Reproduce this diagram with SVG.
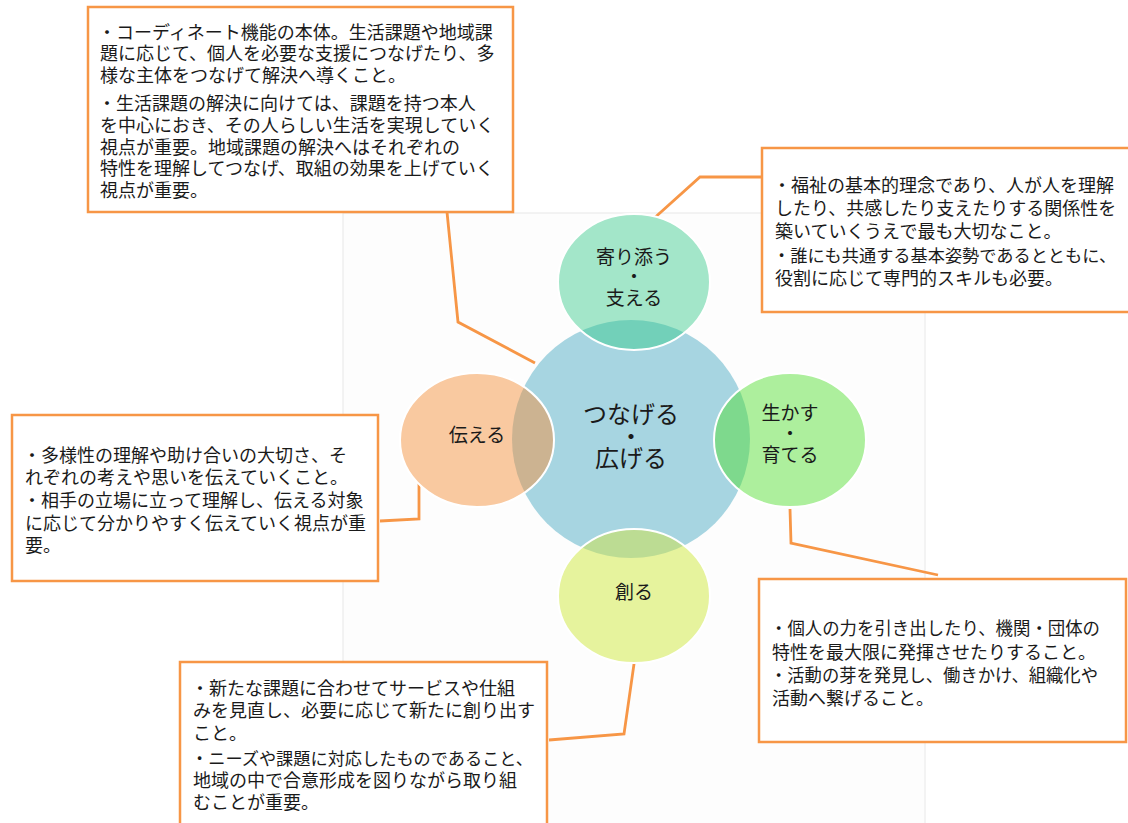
<svg xmlns="http://www.w3.org/2000/svg" width="1128" height="823" viewBox="0 0 1128 823">
<style>
  .box { fill: #ffffff; stroke: #f79646; stroke-width: 2.5; }
  .conn { fill: none; stroke: #f79646; stroke-width: 2.8; stroke-linejoin: miter; }
  .t { font-family: "Noto Sans CJK JP", "Noto Sans", sans-serif; font-size: 18px; fill: #1a1a1a; }
  .c { font-family: "Noto Sans CJK JP", "Noto Sans", sans-serif; font-size: 19px; fill: #1a1a1a; text-anchor: middle; }
  .cc { font-family: "Noto Sans CJK JP", "Noto Sans", sans-serif; font-size: 24px; fill: #1a1a1a; text-anchor: middle; }
  .rim { fill: none; stroke: #ffffff; stroke-width: 2; }
</style>
<defs>
  <clipPath id="clipCenter"><circle cx="631" cy="439" r="119"/></clipPath>
</defs>
<rect x="0" y="0" width="1128" height="823" fill="#ffffff"/>
<g id="panel">
  <rect x="343" y="213" width="582" height="620" fill="#fdfdfd" stroke="#e8e8e8" stroke-width="1"/>
</g>

<g id="connectors">
  <path class="conn" d="M447,212 L458,322 L535,363"/>
  <path class="conn" d="M762,177 L700,177 L651,221"/>
  <path class="conn" d="M380,521 L419,519 L419,478"/>
  <path class="conn" d="M790,509 L791,543 L938,575"/>
  <path class="conn" d="M549,740 L624,734 L635,657"/>
</g>

<g id="node-center">
  <circle cx="631" cy="439" r="119" fill="#a7d5e1"/>
</g>

<g id="node-yorisou">
  <ellipse cx="634" cy="282" rx="76" ry="68" fill="#a3e6c9"/>
  <ellipse cx="634" cy="282" rx="76" ry="68" fill="#72d0b9" clip-path="url(#clipCenter)"/>
  <ellipse class="rim" cx="634" cy="282" rx="76" ry="68"/>
  <text class="c" x="634" y="264">寄り添う</text>
  <text class="c" x="634" y="284">・</text>
  <text class="c" x="634" y="305">支える</text>
</g>

<g id="node-tsutaeru">
  <ellipse cx="477" cy="440" rx="77" ry="67" fill="#f9c9a0"/>
  <ellipse cx="477" cy="440" rx="77" ry="67" fill="#ccb391" clip-path="url(#clipCenter)"/>
  <ellipse class="rim" cx="477" cy="440" rx="77" ry="67"/>
  <text class="c" x="477" y="442">伝える</text>
</g>

<g id="node-ikasu">
  <ellipse cx="790" cy="440" rx="76" ry="67" fill="#adef9d"/>
  <ellipse cx="790" cy="440" rx="76" ry="67" fill="#7ed98d" clip-path="url(#clipCenter)"/>
  <ellipse class="rim" cx="790" cy="440" rx="76" ry="67"/>
  <text class="c" x="790" y="420">生かす</text>
  <text class="c" x="790" y="441">・</text>
  <text class="c" x="790" y="462">育てる</text>
</g>

<g id="node-tsukuru">
  <ellipse cx="634" cy="596" rx="76" ry="67" fill="#e6f39d"/>
  <ellipse cx="634" cy="596" rx="76" ry="67" fill="#bcdc93" clip-path="url(#clipCenter)"/>
  <ellipse class="rim" cx="634" cy="596" rx="76" ry="67"/>
  <text class="c" x="634" y="599">創る</text>
</g>

<g id="node-center-label">
  <text class="cc" x="631" y="423">つなげる</text>
  <text class="cc" x="631" y="445">・</text>
  <text class="cc" x="631" y="467">広げる</text>
</g>

<g id="box-coordinate">
  <rect class="box" x="88" y="7" width="425" height="205"/>
  <text class="t" x="98" y="39">・コーディネート機能の本体。生活課題や地域課</text>
  <text class="t" x="100" y="60">題に応じて、個人を必要な支援につなげたり、多</text>
  <text class="t" x="100" y="82">様な主体をつなげて解決へ導くこと。</text>
  <text class="t" x="98" y="110">・生活課題の解決に向けては、課題を持つ本人</text>
  <text class="t" x="100" y="132">を中心におき、その人らしい生活を実現していく</text>
  <text class="t" x="100" y="154">視点が重要。地域課題の解決へはそれぞれの</text>
  <text class="t" x="100" y="175">特性を理解してつなげ、取組の効果を上げていく</text>
  <text class="t" x="100" y="197">視点が重要。</text>
</g>

<g id="box-yorisou">
  <rect class="box" x="762" y="148" width="372" height="164"/>
  <text class="t" x="773" y="192">・福祉の基本的理念であり、人が人を理解</text>
  <text class="t" x="775" y="215">したり、共感したり支えたりする関係性を</text>
  <text class="t" x="775" y="238">築いていくうえで最も大切なこと。</text>
  <text class="t" x="773" y="262" style="font-size:17.2px">・誰にも共通する基本姿勢であるとともに、</text>
  <text class="t" x="775" y="285">役割に応じて専門的スキルも必要。</text>
</g>

<g id="box-tsutaeru">
  <rect class="box" x="12" y="415" width="366" height="166"/>
  <text class="t" x="23" y="462">・多様性の理解や助け合いの大切さ、そ</text>
  <text class="t" x="25" y="484">れぞれの考えや思いを伝えていくこと。</text>
  <text class="t" x="23" y="507">・相手の立場に立って理解し、伝える対象</text>
  <text class="t" x="25" y="530">に応じて分かりやすく伝えていく視点が重</text>
  <text class="t" x="25" y="552">要。</text>
</g>

<g id="box-ikasu">
  <rect class="box" x="759" y="579" width="367" height="163"/>
  <text class="t" x="770" y="635" textLength="330" lengthAdjust="spacingAndGlyphs">・個人の力を引き出したり、機関・団体の</text>
  <text class="t" x="772" y="659">特性を最大限に発揮させたりすること。</text>
  <text class="t" x="770" y="682" textLength="328" lengthAdjust="spacingAndGlyphs">・活動の芽を発見し、働きかけ、組織化や</text>
  <text class="t" x="772" y="705">活動へ繋げること。</text>
</g>

<g id="box-tsukuru">
  <rect class="box" x="180" y="662" width="367" height="175"/>
  <text class="t" x="191" y="695">・新たな課題に合わせてサービスや仕組</text>
  <text class="t" x="193" y="717">みを見直し、必要に応じて新たに創り出す</text>
  <text class="t" x="193" y="740">こと。</text>
  <text class="t" x="191" y="765" style="font-size:17.2px">・ニーズや課題に対応したものであること、</text>
  <text class="t" x="193" y="787">地域の中で合意形成を図りながら取り組</text>
  <text class="t" x="193" y="809">むことが重要。</text>
</g>
</svg>
